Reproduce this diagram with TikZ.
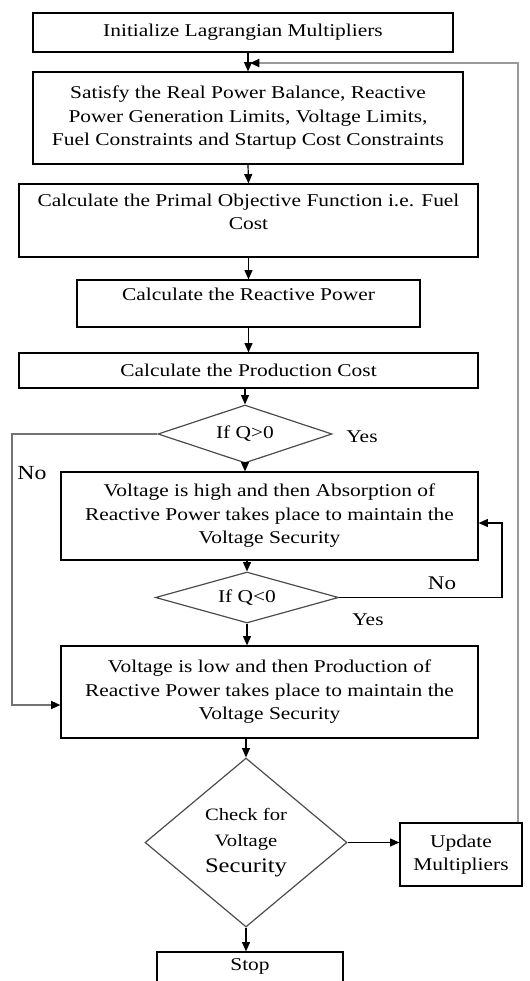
\documentclass[tikz,border=0pt]{standalone}
\usepackage{fontspec}
\setmainfont{Liberation Serif}[FakeStretch=1.19]
\usetikzlibrary{shapes.geometric,arrows.meta}

\begin{document}
\begin{tikzpicture}[x=0.75pt, y=-0.75pt,
  font=\fontsize{13.5}{17.6}\selectfont,
  box/.style={draw=black, line width=0.9pt, align=center, inner sep=0pt},
  dec/.style={diamond, draw=black!70, line width=0.9pt, align=center,
    inner sep=0pt, aspect=3},
  flow/.style={line width=0.9pt, -{Triangle[length=7pt, width=6pt, color=black]}},
  noline/.style={draw=black!55, line width=1.1pt},
  fbline/.style={draw=black!40, line width=1.5pt}]
  %% canvas of the reference, in pixels
  \useasboundingbox (0,0) rectangle (529,981);
  %% process boxes
  \node[box, minimum width=315pt, minimum height=29.25pt] (init) at (243,32.5)
    {Initialize Lagrangian Multipliers};
  \node[box, minimum width=322.5pt, minimum height=69pt] (satisfy) at (248,118)
    {Satisfy the Real Power Balance, Reactive\\Power Generation Limits, Voltage Limits,\\Fuel Constraints and Startup Cost Constraints};
  \node[box, minimum width=344.25pt, minimum height=54.75pt, text depth=13pt] (primal) at (248.5,220.5)
    {Calculate the Primal Objective Function i.e. Fuel\\Cost};
  \node[box, minimum width=257.25pt, minimum height=35.25pt, text height=9.5pt, text depth=13.3pt] (reactive) at (248.5,303.5)
    {Calculate the Reactive Power};
  \node[box, minimum width=344.25pt, minimum height=26.25pt] (prodcost) at (248.5,370.5)
    {Calculate the Production Cost};
  % first test
  \node[dec, minimum width=130.5pt, minimum height=43.5pt] (qpos) at (245,434) {If Q>0};
  \node[box, minimum width=312.75pt, minimum height=66pt] (absorb) at (269.5,516)
    {Voltage is high and then Absorption of\\Reactive Power takes place to maintain the\\Voltage Security};
  % second test
  \node[dec, minimum width=137.25pt, minimum height=38.25pt] (qneg) at (247,597.5) {If Q<0};
  \node[box, minimum width=312.75pt, minimum height=69pt] (produce) at (269.5,692)
    {Voltage is low and then Production of\\Reactive Power takes place to maintain the\\Voltage Security};
  % security check
  \node[dec, aspect=1.2, minimum width=151.5pt, minimum height=126.75pt,
    font=\fontsize{13}{19.5}\selectfont] (check) at (246,842.5)
    {Check for\\Voltage\\{\fontsize{15.5}{19.5}\selectfont Security}};
  \node[box, minimum width=91.5pt, minimum height=47.25pt] (update) at (461,854.5)
    {Update\\Multipliers};
  \node[box, minimum width=139.5pt, minimum height=32.25pt, text height=9.5pt, text depth=13.3pt] (stop) at (250,973.5)
    {Stop};
  %% branch labels
  \node (yes1) at (362,437) {Yes};
  \node[font=\fontsize{15}{18}\selectfont] (no1) at (32,473) {No};
  \node[font=\fontsize{14.5}{18}\selectfont] (no2) at (442,583) {No};
  \node (yes2) at (368,620) {Yes};
  %% main flow
  \draw[flow] (satisfy.north |- init.south) -- (satisfy.north);
  \draw[flow] (satisfy.south) -- (primal.north);
  \draw[flow] (primal.south) -- (reactive.north);
  \draw[flow] (reactive.south) -- (prodcost.north);
  \draw[flow] (prodcost.south -| qpos.north) -- (qpos.north);
  \draw[flow] (qpos.south) -- (qpos.south |- absorb.north);
  \draw[flow] (absorb.south -| qneg.north) -- (qneg.north);
  \draw[flow] (qneg.south) -- (qneg.south |- produce.north);
  \draw[flow] (produce.south -| check.north) -- (check.north);
  \draw[flow] (check.east) -- (check.east -| update.west);
  \draw[flow] (check.south) -- (check.south |- stop.north);
  %% loops
  \coordinate (lcorner) at (12,705);
  \draw[flow, noline] (qpos.west) -| (lcorner) -- (lcorner -| produce.west);
  \coordinate (rcorner) at (502,523);
  \draw[flow] (qneg.east) -| (rcorner) -- (rcorner -| absorb.east);
  \coordinate (fbtop) at (518,63);
  \coordinate (fbin) at (250,63);
  \draw[flow, fbline] (update.north -| fbtop) -- (fbtop) -- (fbin);
\end{tikzpicture}
\end{document}
